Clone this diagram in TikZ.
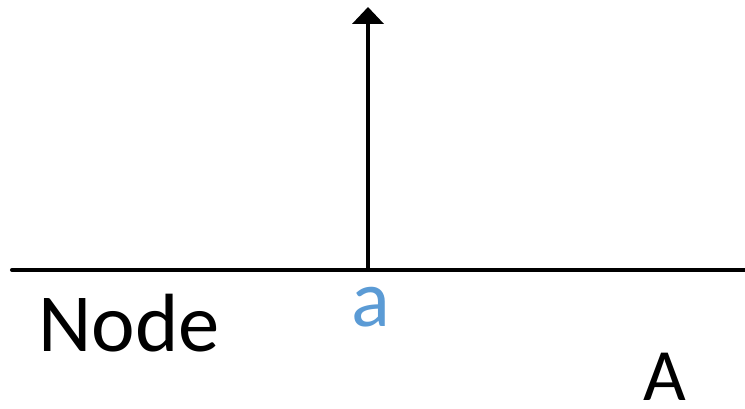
\documentclass[tikz,border=0pt]{standalone}
\usepackage{fontspec}
\setmainfont{Carlito}
\usepackage{tikz}
\usetikzlibrary{arrows.meta,positioning,calc}
\definecolor{OfficeBlue}{HTML}{5B9BD5}
\tikzset{
  axisline/.style={line width=2.3pt, line cap=round},
  uparr/.style={line width=2.3pt, -{Triangle[length=3.4mm,width=6.2mm]}},
  lbl/.style={inner sep=0pt, anchor=base}
}

\begin{document}
\begin{tikzpicture}[
  every node/.style={font=\fontsize{46}{50}\selectfont}
]
\useasboundingbox (0,0) rectangle (14.9,8.18);
\coordinate (left) at (0.24,2.78);
\coordinate (right) at (14.95,2.78);
\coordinate (base) at (7.36,2.78);
\coordinate (top) at (7.36,8.04);
\draw[axisline] (left) -- (right);
\draw[uparr] (base) -- (top);
\node[lbl, text=OfficeBlue] (a) at (7.41,1.64) {a};
\node[lbl, font=\fontsize{47}{50}\selectfont] (nodelbl) at (2.58,1.14) {Node};
\node[lbl, font=\fontsize{42}{46}\selectfont] (A) at (13.3,0.17) {A};
\end{tikzpicture}
\end{document}
